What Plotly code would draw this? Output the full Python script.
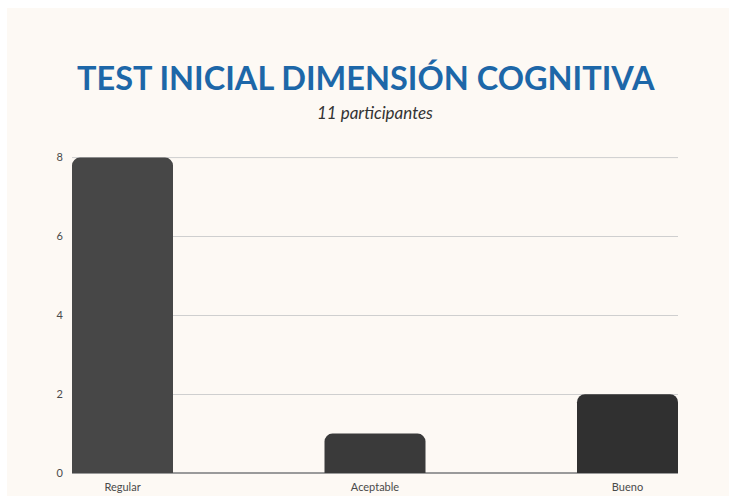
import plotly.graph_objects as go

categories = ["Regular", "Aceptable", "Bueno"]
values = [8, 1, 2]
bar_colors = ["#474747", "#3a3a3a", "#303030"]
y_ticks = [0, 2, 4, 6, 8]

W, H = 729, 496
L, R, T, B = 72, 51, 157, 23
pw, ph = W - L - R, H - T - B

def px_x(x):
    return (x - L) / pw

def px_y(y):
    return (H - B - y) / ph

fig = go.Figure()
fig.add_trace(go.Bar(
    x=list(range(len(categories))), y=values,
    width=0.4,
    marker=dict(color=bar_colors, line=dict(width=0), cornerradius=8),
    hoverinfo="skip",
))

fig.update_layout(
    width=W, height=H,
    margin=dict(l=L, r=R, t=T, b=B, autoexpand=False),
    paper_bgcolor="white",
    plot_bgcolor="rgba(0,0,0,0)",
    showlegend=False,
    font=dict(family="Lato", color="#4a4a4a", size=11),
    xaxis=dict(
        range=[-0.2, 2.2], tickmode="array",
        tickvals=list(range(len(categories))), ticktext=categories,
        showgrid=False, zeroline=False, showline=False, ticks="",
        ticklabelstandoff=6,
        tickfont=dict(family="Lato", size=11, color="#4a4a4a"),
        automargin=False,
    ),
    yaxis=dict(
        range=[0, 8.015], tickmode="array", tickvals=y_ticks,
        showgrid=True, gridcolor="#cfcfcf", gridwidth=1,
        zeroline=True, zerolinecolor="#9a9a9a", zerolinewidth=1.8,
        showline=False, ticks="", ticklabelstandoff=8,
        tickfont=dict(family="Lato", size=11, color="#4a4a4a"),
        automargin=False,
    ),
    shapes=[
        dict(type="rect", xref="paper", yref="paper",
             x0=px_x(7), x1=px_x(735), y0=px_y(500), y1=px_y(8),
             fillcolor="#fdf9f4", line=dict(width=0), layer="below"),
        dict(type="line", xref="paper", yref="y",
             x0=0, x1=1, y0=y_ticks[-1], y1=y_ticks[-1],
             line=dict(color="#cfcfcf", width=1), layer="below"),
    ],
    annotations=[
        dict(text="<b>TEST INICIAL DIMENSIÓN COGNITIVA</b>", xref="paper", yref="paper",
             x=px_x(366), y=px_y(77), showarrow=False, xanchor="center", yanchor="middle",
             font=dict(family="Lato", size=32.5, color="#1d67a8")),
        dict(text="<i>11 participantes</i>", xref="paper", yref="paper",
             x=px_x(375), y=px_y(113), showarrow=False, xanchor="center", yanchor="middle",
             font=dict(family="Lato", size=17, color="#333333")),
    ],
)

fig.write_html("out.html")
